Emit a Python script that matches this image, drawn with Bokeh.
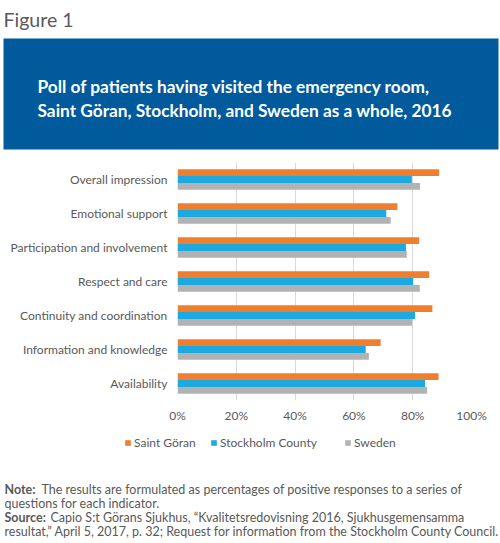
from bokeh.plotting import figure
from bokeh.models import FactorRange, Range1d, FixedTicker, Legend, LegendItem, ColumnDataSource
from bokeh.transform import dodge
from bokeh.core.properties import value
from bokeh.embed import file_html
from bokeh.resources import INLINE

categories = ["Overall impression", "Emotional support", "Participation and involvement",
              "Respect and care", "Continuity and coordination", "Information and knowledge",
              "Availability"]
saint_goran = [89.0, 74.8, 82.2, 85.6, 86.7, 69.1, 88.8]
stockholm_county = [79.7, 71.0, 77.7, 80.2, 80.8, 64.0, 84.2]
sweden = [82.5, 72.5, 78.0, 82.4, 79.8, 65.1, 84.9]
series_names = ["Saint Göran", "Stockholm County", "Sweden"]
series_colors = ["#EF7F2E", "#1BA9E0", "#B2B2B2"]
tick_values = [0, 20, 40, 60, 80, 100]
tick_labels = ["0%", "20%", "40%", "60%", "80%", "100%"]

fig_label = "Figure 1"
title_lines = ["Poll of patients having visited the emergency room,",
               "Saint Göran, Stockholm, and Sweden as a whole, 2016"]
note_bold = ["Note:", "Source:"]
note_lines = ["The results are formulated as percentages of positive responses to a series of",
              "questions for each indicator.",
              "Capio S:t Görans Sjukhus, \u201cKvalitetsredovisning 2016, Sjukhusgemensamma",
              "resultat,\u201d April 5, 2017, p. 32; Request for information from the Stockholm County Council."]

W = 500
FONT = "Lato"
TXT = "#595959"


def blank(fig):
    fig.axis.visible = False
    fig.grid.visible = False
    fig.outline_line_color = None
    fig.background_fill_color = None
    fig.border_fill_color = None


# ---------------- header ----------------
HH = 150
header = figure(width=W, height=HH, x_range=Range1d(0, W), y_range=Range1d(HH, 0),
                output_backend="svg", toolbar_location=None, min_border=0)
blank(header)
header.quad(left=3, right=498, top=38, bottom=149, fill_color="#005A9C", line_color=None)
header.text(x=[3], y=[19], text=[fig_label], text_font=value(FONT), text_font_size="19.5px",
            text_color="#58595B", text_baseline="alphabetic")
header.text(x=[37, 37], y=[86, 110], text=title_lines, text_font=value(FONT),
            text_font_style="bold", text_font_size="17.3px", text_color="white",
            text_baseline="alphabetic")

# ---------------- main chart ----------------
src = ColumnDataSource(dict(cat=categories, sg=saint_goran, sc=stockholm_county, sw=sweden))
p = figure(width=W, height=275, y_range=FactorRange(factors=categories[::-1]),
           x_range=Range1d(0, 100), output_backend="svg", toolbar_location=None,
           min_border_left=177, min_border_right=29, min_border_top=12, min_border_bottom=25)
p.outline_line_color = None

renderers = []
for col, off, color in zip(["sg", "sc", "sw"], [0.2, 0.0, -0.2], series_colors):
    r = p.hbar(y=dodge("cat", off, range=p.y_range), right=col, left=0, height=0.2,
               source=src, fill_color=color, line_color=None)
    renderers.append(r)

p.ygrid.visible = False
p.xgrid.ticker = FixedTicker(ticks=tick_values)
p.xgrid.grid_line_color = "#D9D9D9"
p.xgrid.grid_line_width = 1

p.xaxis.ticker = FixedTicker(ticks=tick_values)
p.xaxis.major_label_overrides = {v: l for v, l in zip(tick_values, tick_labels)}
for ax in (p.xaxis[0], p.yaxis[0]):
    ax.axis_line_color = None
    ax.major_tick_line_color = None
    ax.minor_tick_line_color = None
    ax.major_tick_out = 0
    ax.major_tick_in = 0
    ax.minor_tick_out = 0
    ax.major_label_text_font = FONT
    ax.major_label_text_font_size = "12px"
    ax.major_label_text_color = TXT
p.xaxis.major_label_standoff = 7
p.yaxis.major_label_standoff = 10

# ---------------- footer (legend + notes) ----------------
FH = 118
footer = figure(width=W, height=FH, x_range=Range1d(0, W), y_range=Range1d(FH, 0),
                output_backend="svg", toolbar_location=None, min_border=0)
blank(footer)

legend_x = [124, 210, 344]
for name, color, lx in zip(series_names, series_colors, legend_x):
    # zero-size swatch renderer, only used to give the legend entry its colour
    swatch = footer.quad(left=[0], right=[0], top=[0], bottom=[0], fill_color=color,
                         line_color=None)
    lg = Legend(items=[LegendItem(label=name, renderers=[swatch], index=0)],
                orientation="horizontal", location=(lx, 93), glyph_width=7, glyph_height=7,
                label_standoff=3, spacing=0, padding=0, margin=0,
                border_line_color=None, background_fill_alpha=0,
                label_text_font=FONT, label_text_font_size="12px", label_text_color=TXT)
    footer.add_layout(lg)

base = [64, 78, 92, 106]
footer.text(x=[4, 4], y=[base[0], base[2]], text=note_bold, text_font=value(FONT),
            text_font_style="bold", text_font_size="12.5px", text_color=TXT,
            text_baseline="alphabetic")
footer.text(x=[41, 4, 50, 4], y=base, text=note_lines, text_font=value(FONT),
            text_font_size="12.5px", text_color=TXT, text_baseline="alphabetic")

open("out.html", "w").write(file_html([header, p, footer], INLINE))
